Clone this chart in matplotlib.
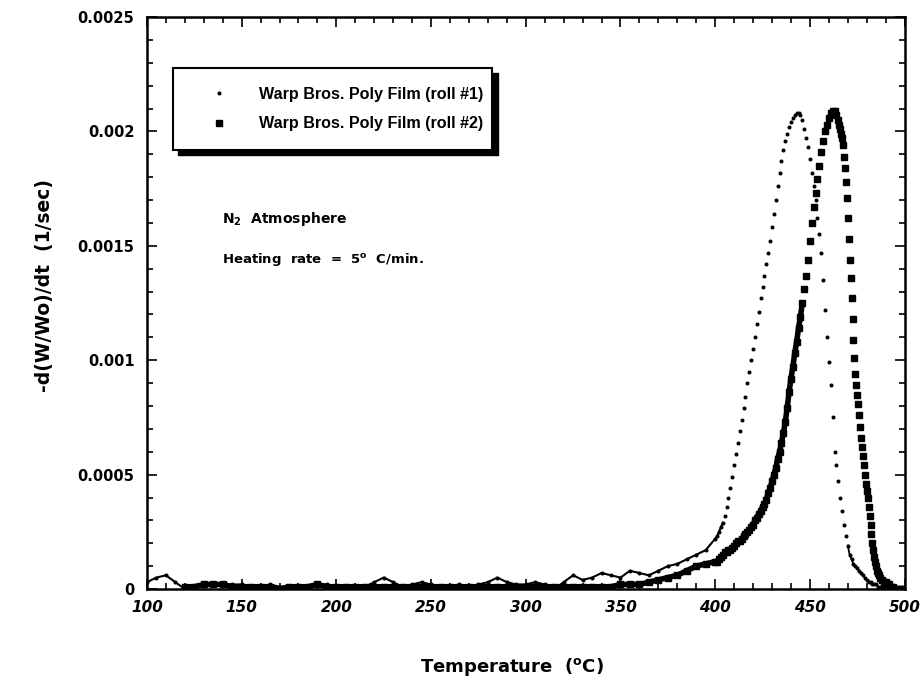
import matplotlib
matplotlib.use("Agg")
import matplotlib.pyplot as plt
from matplotlib.patches import Rectangle
from matplotlib.ticker import MultipleLocator

plt.rcParams['font.family'] = ['DejaVu Sans']
plt.rcParams['mathtext.fontset'] = 'custom'
plt.rcParams['mathtext.rm'] = 'DejaVu Sans:bold'
plt.rcParams['mathtext.bf'] = 'DejaVu Sans:bold'

# ---- data ----
# baseline region, every 5 C
temps_low1 = list(range(100, 400, 5))
roll1_low = [0.00003, 0.00005, 0.00006, 0.00003, 0.00000, 0.00001, 0.00002, 0.00002, 0.00002, 0.00002,
             0.00002, 0.00001, 0.00001, 0.00002, 0.00001, 0.00000, 0.00001, 0.00001, 0.00002, 0.00002,
             0.00001, 0.00001, 0.00001, 0.00001, 0.00003, 0.00005, 0.00003, 0.00001, 0.00002, 0.00003,
             0.00002, 0.00001, 0.00001, 0.00002, 0.00001, 0.00002, 0.00003, 0.00005, 0.00003, 0.00002,
             0.00002, 0.00003, 0.00002, 0.00000, 0.00003, 0.00006, 0.00004, 0.00005, 0.00007, 0.00006,
             0.00005, 0.00008, 0.00007, 0.00006, 0.00008, 0.00010, 0.00011, 0.00013, 0.00015, 0.00017]

temps_low2 = list(range(120, 400, 5))
roll2_low = [0.00001, 0.00001, 0.00002, 0.00002, 0.00002, 0.00001, 0.00001, 0.00001, 0.00001, 0.00001,
             0.00000, 0.00001, 0.00001, 0.00001, 0.00002, 0.00001, 0.00001, 0.00001, 0.00001, 0.00001,
             0.00001, 0.00001, 0.00001, 0.00001, 0.00001, 0.00001, 0.00001, 0.00001, 0.00001, 0.00001,
             0.00001, 0.00001, 0.00001, 0.00001, 0.00001, 0.00001, 0.00001, 0.00001, 0.00001, 0.00001,
             0.00001, 0.00001, 0.00001, 0.00001, 0.00001, 0.00001, 0.00002, 0.00002, 0.00002, 0.00003,
             0.00004, 0.00005, 0.00006, 0.00008, 0.00010, 0.00011]

# roll #1 peak region, every 1 C
temps_peak1 = list(range(400, 501))
roll1_peak = [0.00022, 0.00023, 0.00025, 0.00027, 0.00029, 0.00032, 0.00036, 0.00040, 0.00044, 0.00049,
              0.00054, 0.00059, 0.00064, 0.00069, 0.00074, 0.00079, 0.00084, 0.00090, 0.00095, 0.00100,
              0.00105, 0.00110, 0.00116, 0.00121, 0.00127, 0.00132, 0.00137, 0.00142, 0.00147, 0.00152,
              0.00158, 0.00164, 0.00170, 0.00176, 0.00182, 0.00187, 0.00192, 0.00196, 0.00199, 0.00202,
              0.00204, 0.00206, 0.00207, 0.00208, 0.00208, 0.00207, 0.00205, 0.00201, 0.00197, 0.00193,
              0.00188, 0.00182, 0.00176, 0.00170, 0.00162, 0.00155, 0.00147, 0.00135, 0.00122, 0.00110,
              0.00099, 0.00089, 0.00075, 0.00060, 0.00054, 0.00047, 0.00040, 0.00034, 0.00028, 0.00023,
              0.00019, 0.00015, 0.00013, 0.00011, 0.00010, 0.00009, 0.00008, 0.00007, 0.00006, 0.00005,
              0.00004, 0.00003, 0.00003, 0.00002, 0.00002, 0.00002, 0.00001, 0.00001, 0.00001, 0.00001,
              0.00001, 0.00001, 0.00000, 0.00000, 0.00000, 0.00000, 0.00000, 0.00000, 0.00000, 0.00000,
              0.00000]

# roll #2: rising side every 1 C, falling side every 0.5 C, tail every 1 C
temps_rise2 = list(range(400, 465))
roll2_rise = [0.00012, 0.00012, 0.00013, 0.00014, 0.00015, 0.00016, 0.00016, 0.00017, 0.00017, 0.00018,
              0.00019, 0.00020, 0.00021, 0.00021, 0.00022, 0.00023, 0.00024, 0.00025, 0.00026, 0.00027,
              0.00028, 0.00030, 0.00031, 0.00033, 0.00034, 0.00036, 0.00037, 0.00039, 0.00042, 0.00044,
              0.00047, 0.00050, 0.00053, 0.00057, 0.00060, 0.00064, 0.00068, 0.00073, 0.00079, 0.00086,
              0.00092, 0.00097, 0.00103, 0.00108, 0.00114, 0.00119, 0.00125, 0.00131, 0.00137, 0.00144,
              0.00152, 0.00160, 0.00167, 0.00173, 0.00179, 0.00185, 0.00191, 0.00196, 0.00200, 0.00203,
              0.00206, 0.00208, 0.00209, 0.00209, 0.00207]
temps_fall2 = [465 + 0.5 * i for i in range(45)]
roll2_fall = [0.00205, 0.00203, 0.00201, 0.00199, 0.00197, 0.00194, 0.00189, 0.00184, 0.00178, 0.00171,
              0.00162, 0.00153, 0.00144, 0.00136, 0.00127, 0.00118, 0.00109, 0.00101, 0.00094, 0.00089,
              0.00085, 0.00081, 0.00076, 0.00071, 0.00066, 0.00062, 0.00058, 0.00054, 0.00050, 0.00046,
              0.00043, 0.00040, 0.00036, 0.00032, 0.00028, 0.00024, 0.00020, 0.00017, 0.00014, 0.00012,
              0.00010, 0.00008, 0.00007, 0.00006, 0.00005]
temps_tail2 = list(range(488, 501))
roll2_tail = [0.00004, 0.00003, 0.00003, 0.00002, 0.00002, 0.00001, 0.00001, 0.00000, 0.00000, 0.00000,
              0.00000, 0.00000, 0.00000]

temps1 = temps_low1 + temps_peak1
roll1 = roll1_low + roll1_peak
temps2 = temps_low2 + temps_rise2 + temps_fall2 + temps_tail2
roll2 = roll2_low + roll2_rise + roll2_fall + roll2_tail

labels = ["Warp Bros. Poly Film (roll #1)", "Warp Bros. Poly Film (roll #2)"]
yticks = [0, 0.0005, 0.001, 0.0015, 0.002, 0.0025]
ytick_labels = ["0", "0.0005", "0.001", "0.0015", "0.002", "0.0025"]

fig = plt.figure(figsize=(9.24, 6.79), dpi=100)
ax = fig.add_axes([0.159, 0.1325, 0.82, 0.8425])

# parts where the samples overlap into a solid band
n1 = len(temps_low1) + 5
k1 = len(temps_low1) + 70
n2 = len(temps_low2) + 47
ax.plot(temps1[:n1], roll1[:n1], color='black', lw=1.5)
ax.plot(temps1[k1:], roll1[k1:], color='black', lw=1.3)
ax.plot(temps2[:n2], roll2[:n2], color='black', lw=4.0)
ax.plot(temps_fall2[36:] + temps_tail2, roll2_fall[36:] + roll2_tail, color='black', lw=3.5)

h1, = ax.plot(temps1, roll1, linestyle='none', marker='o', ms=1.9, color='black', label=labels[0])
h2, = ax.plot(temps2, roll2, linestyle='none', marker='s', ms=4.4, color='black', label=labels[1])

ax.set_xlim(100, 500)
ax.set_ylim(0, 0.0025)
ax.xaxis.set_major_locator(MultipleLocator(50))
ax.xaxis.set_minor_locator(MultipleLocator(10))
ax.set_yticks(yticks)
ax.set_yticklabels(ytick_labels)
ax.yaxis.set_minor_locator(MultipleLocator(0.0001))
ax.tick_params(which='both', direction='in', top=True, right=True, width=1.2)
ax.tick_params(which='major', length=7)
ax.tick_params(which='minor', length=4)
ax.tick_params(axis='x', pad=8)
ax.tick_params(axis='y', pad=9)
for lab in ax.get_xticklabels():
    lab.set_fontweight('bold')
    lab.set_fontstyle('italic')
    lab.set_fontsize(11)
for lab in ax.get_yticklabels():
    lab.set_fontweight('bold')
    lab.set_fontsize(10.5)
for sp in ax.spines.values():
    sp.set_linewidth(1.8)

ax.set_xlabel(r'Temperature  ($^{\rm o}$C)', fontsize=13, fontweight='bold')
ax.set_ylabel('-d(W/Wo)/dt  (1/sec)', fontsize=13.5, fontweight='bold')
ax.xaxis.set_label_coords(0.4815, -0.117)
ax.yaxis.set_label_coords(-0.1346, 0.53)
ax.yaxis.label.set_va('center')

# legend box with black drop shadow
bx0, by0, bw, bh = 0.034, 0.7675, 0.422, 0.1435
ax.add_patch(Rectangle((bx0 + 0.007, by0 - 0.009), bw, bh, transform=ax.transAxes,
                       facecolor='black', edgecolor='black', zorder=5))
ax.add_patch(Rectangle((bx0, by0), bw, bh, transform=ax.transAxes,
                       facecolor='white', edgecolor='black', lw=1.5, zorder=6))
leg = ax.legend(handles=[h1, h2], loc='center left', bbox_to_anchor=(bx0 + 0.040, by0 + bh / 2),
                frameon=False, handlelength=1.0, handletextpad=2.0, labelspacing=0.9,
                borderpad=0.0, prop={'family': 'Liberation Sans', 'weight': 'bold', 'size': 11.6})
leg.set_zorder(7)

ax.text(0.099, 0.64, r'N$_2$  Atmosphere', transform=ax.transAxes, fontsize=10,
        fontweight='bold', va='baseline')
ax.text(0.099, 0.57, r'Heating  rate  =  5$^{\rm o}$  C/min.', transform=ax.transAxes,
        fontsize=9.5, fontweight='bold', va='baseline')

fig.savefig('out.png', dpi=100)
